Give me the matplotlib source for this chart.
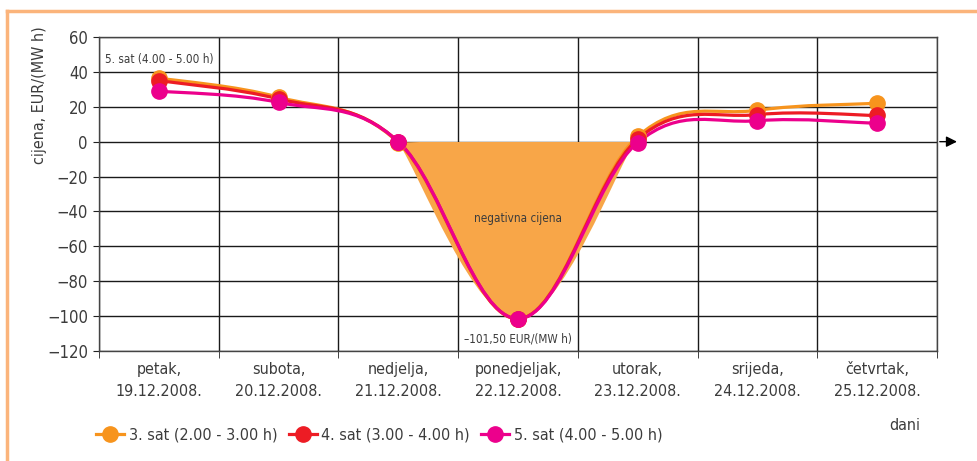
import numpy as np
import matplotlib
matplotlib.use("Agg")
import matplotlib.pyplot as plt
from matplotlib import font_manager as fm
from matplotlib.path import Path
from matplotlib.patches import PathPatch, Rectangle
from matplotlib.lines import Line2D

days = ['petak,\n19.12.2008.', 'subota,\n20.12.2008.', 'nedjelja,\n21.12.2008.',
        'ponedjeljak,\n22.12.2008.', 'utorak,\n23.12.2008.', 'srijeda,\n24.12.2008.',
        'četvrtak,\n25.12.2008.']
sat3 = [36.5, 25.5, -0.5, -101.5, 3.0, 18.0, 22.0]
sat4 = [35.0, 24.5, 0.0, -101.5, 1.5, 15.5, 15.0]
sat5 = [29.0, 22.5, 0.0, -101.5, -0.5, 12.0, 10.5]
names = ['3. sat (2.00 - 3.00 h)', '4. sat (3.00 - 4.00 h)', '5. sat (4.00 - 5.00 h)']
colors = ['#F7941D', '#ED1C24', '#EC008C']
yticks = [60, 40, 20, 0, -20, -40, -60, -80, -100, -120]

# narrow font if there is one, else Liberation Sans a bit smaller
narrow = [f for f in fm.fontManager.ttflist
          if ('Condensed' in f.fname or 'Narrow' in f.fname)
          and not any(k in f.fname for k in ('Bold', 'Italic', 'Oblique', 'Light', 'Medium', 'Thin', 'Black', 'Semi', 'Extra'))]
if narrow:
    plt.rcParams['font.family'] = [narrow[0].name, 'DejaVu Sans']
    plt.rcParams['font.stretch'] = narrow[0].stretch
    fs = 11.5
else:
    plt.rcParams['font.family'] = ['Liberation Sans', 'DejaVu Sans']
    fs = 10.5
small = 8.4
txt = '#3c3c3c'


def smooth_path(xs, ys):
    # excel-like smoothed line as cubic bezier segments
    p = np.column_stack([xs, ys]).astype(float)
    ext = np.vstack([p[0], p, p[-1]])
    verts = [p[0]]
    codes = [Path.MOVETO]
    for i in range(len(p) - 1):
        c1 = p[i] + (ext[i + 2] - ext[i]) / 5.5
        c2 = p[i + 1] - (ext[i + 3] - ext[i + 1]) / 5.5
        verts += [c1, c2, p[i + 1]]
        codes += [Path.CURVE4] * 3
    return verts, codes


fig = plt.figure(figsize=(9.77, 4.61), dpi=100)
ax = fig.add_axes([99 / 977, 1 - 351 / 461, (937 - 99) / 977, (351 - 37) / 461])
x = np.arange(len(days))

# negative price area (under orange series, clipped below zero)
v, c = smooth_path(x[2:5], sat3[2:5])
v = v + [v[0]]
c = c + [Path.CLOSEPOLY]
area = PathPatch(Path(v, c), facecolor='#F8A648', edgecolor='none', zorder=2)
ax.add_patch(area)
clip = Rectangle((1.5, -130), 3, 130, transform=ax.transData)
area.set_clip_path(clip)

for vals, col, nm in zip([sat3, sat4, sat5], colors, names):
    v, c = smooth_path(x, vals)
    ax.add_patch(PathPatch(Path(v, c), facecolor='none', edgecolor=col, lw=2.3, zorder=3))
    ax.plot(x, vals, 'o', color=col, ms=11, zorder=4, label=nm)

ax.set_xlim(-0.5, 6.5)
ax.set_ylim(-120, 60)
ax.set_yticks(yticks)
ax.set_xticks(x)
ax.set_xticklabels(days, fontsize=fs, color=txt, linespacing=1.6)
ax.set_xticks(np.arange(-0.5, 7, 1), minor=True)
ax.tick_params(axis='x', which='major', length=0, pad=8)
ax.tick_params(axis='x', which='minor', length=5, color='#222222')
ax.tick_params(axis='y', length=4, color='#222222', labelsize=fs + 0.5, labelcolor=txt, pad=4)
ax.grid(axis='y', color='#1a1a1a', lw=1.0)
ax.grid(axis='x', which='minor', color='#1a1a1a', lw=1.0)
ax.set_axisbelow(True)
for s in ax.spines.values():
    s.set_color('#444444')
    s.set_linewidth(1.0)

ax.annotate('', xy=(6.69, 0), xytext=(6.5, 0), annotation_clip=False,
            arrowprops=dict(arrowstyle='-|>', color='black', lw=1, mutation_scale=16))

ax.text(0, 47, '5. sat (4.00 - 5.00 h)', ha='center', va='center', fontsize=small, color=txt)
ax.text(3, -44, 'negativna cijena', ha='center', va='center', fontsize=small, color=txt, zorder=5)
ax.text(3, -113, '–101,50 EUR/(MW h)', ha='center', va='center', fontsize=small, color=txt)

fig.text(40 / 977, 1 - 95 / 461, 'cijena, EUR/(MW h)', rotation=90, ha='center', va='center',
         fontsize=fs, color=txt)
fig.text(905 / 977, 1 - 425 / 461, 'dani', ha='center', va='center', fontsize=fs, color=txt)

leg = fig.legend(loc='center left', bbox_to_anchor=(96 / 977, 1 - 435 / 461), ncol=3,
                 frameon=False, fontsize=fs, handlelength=1.75, handletextpad=0.3,
                 columnspacing=0.7, borderaxespad=0, borderpad=0)
for h in leg.legend_handles:
    h.set_linestyle('-')
    h.set_linewidth(2.3)
for t in leg.get_texts():
    t.set_color(txt)

# outer frame
fig.add_artist(Line2D([7 / 977, 7 / 977], [0, 1 - 11 / 461], color='#FBB47B', lw=2.5))
fig.add_artist(Line2D([7 / 977, 1], [1 - 11 / 461, 1 - 11 / 461], color='#FBB47B', lw=2.5))

fig.savefig('out.png', dpi=100)
